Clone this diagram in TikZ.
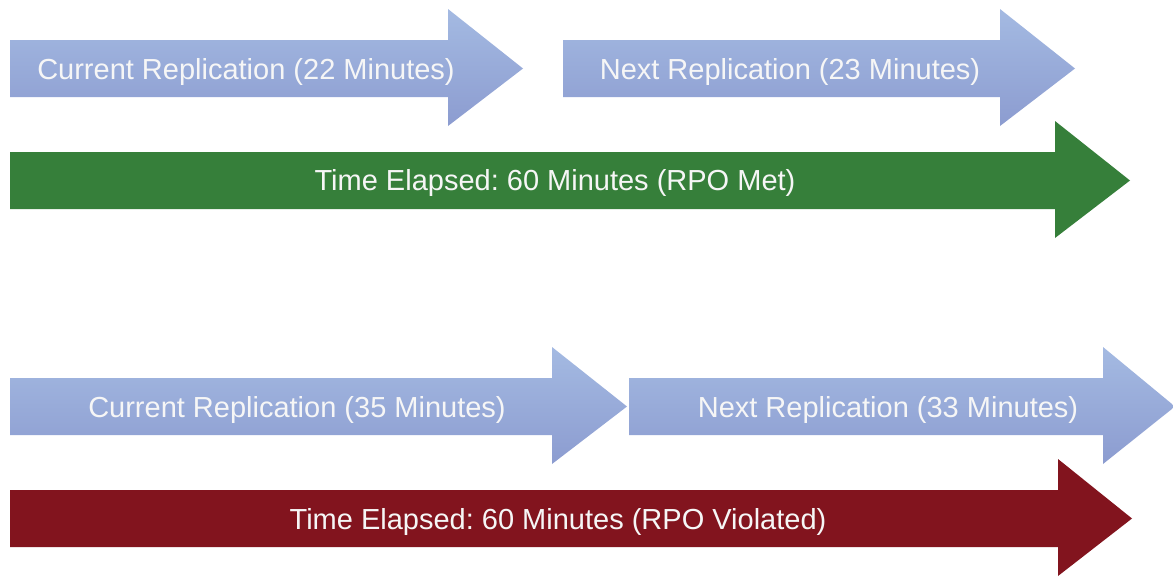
\documentclass[tikz,border=0pt]{standalone}
\usepackage{fontspec}
\setmainfont{Liberation Sans}
\frenchspacing
\definecolor{bluetop}{RGB}{164,186,226}
\definecolor{bluebot}{RGB}{140,156,208}
\definecolor{metgreen}{RGB}{54,127,58}
\definecolor{violred}{RGB}{130,20,30}
\definecolor{labelwhite}{RGB}{246,246,246}
\newcommand\myarrowpath[6]{%
  \path[#1] (#2,#5) -- (#3,#5) -- (#3,#5-31) -- (#4,{(#5+#6)/2}) -- (#3,#6+29) -- (#3,#6) -- (#2,#6) -- cycle;}
\begin{document}
\begin{tikzpicture}[x=1pt,y=-1pt,
  reparrow/.style={top color=bluetop,bottom color=bluebot,draw=none},
  metarrow/.style={fill=metgreen,draw=none},
  violarrow/.style={fill=violred,draw=none},
  lbl/.style={text=labelwhite,font=\fontsize{29}{31}\selectfont,inner sep=0pt,anchor=center}]
\useasboundingbox (0,0) rectangle (1173,576);
% top scenario
\myarrowpath{reparrow}{10}{448}{523}{40}{97}
\myarrowpath{reparrow}{563}{1000}{1075}{40}{97}
\myarrowpath{metarrow}{10}{1055}{1130}{152}{209}
\node[lbl] (cur1) at (246,72) {Current Replication (22 Minutes)};
\node[lbl] (next1) at (790,72) {Next Replication (23 Minutes)};
\node[lbl] (time1) at (555,183) {Time Elapsed: 60 Minutes (RPO Met)};
% bottom scenario
\myarrowpath{reparrow}{10}{552}{627}{378}{435}
\myarrowpath{reparrow}{629}{1103}{1175}{378}{435}
\myarrowpath{violarrow}{10}{1058}{1132}{490}{547}
\node[lbl] (cur2) at (297,410) {Current Replication (35 Minutes)};
\node[lbl] (next2) at (888,410) {Next Replication (33 Minutes)};
\node[lbl] (time2) at (558,522) {Time Elapsed: 60 Minutes (RPO Violated)};
\end{tikzpicture}
\end{document}
